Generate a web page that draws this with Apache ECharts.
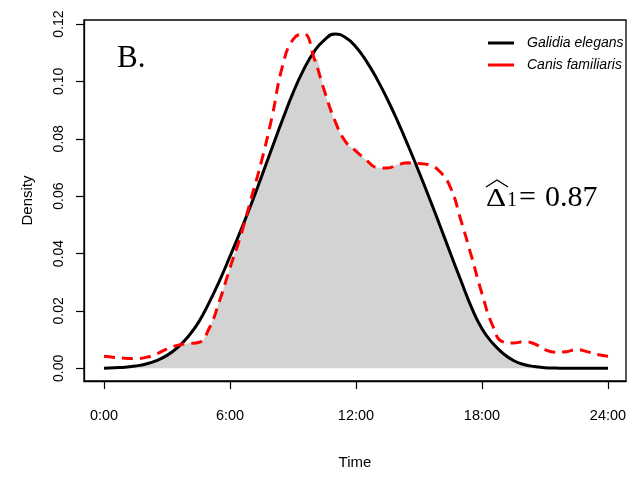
<!DOCTYPE html>
<html>
<head>
<meta charset="utf-8">
<script src="https://cdn.jsdelivr.net/npm/echarts@6/dist/echarts.min.js"></script>
<style>
html,body{margin:0;padding:0;background:#fff;}
#chart{width:632px;height:477px;}
</style>
</head>
<body>
<div id="chart"></div>
<script>
// ---- data ----
const hours = [0,0.5,1,1.5,2,2.5,3,3.5,4,4.5,5,5.5,6,6.5,7,7.5,8,8.5,9,9.5,10,10.5,11,11.5,12,12.5,13,13.5,14,14.5,15,15.5,16,16.5,17,17.5,18,18.5,19,19.5,20,20.5,21,21.5,22,22.5,23,23.5,24];
const galidia = [0.0000,0.0002,0.0004,0.0008,0.0015,0.0027,0.0045,0.0072,0.0110,0.0160,0.0228,0.0305,0.0390,0.0478,0.0570,0.0668,0.0768,0.0866,0.0960,0.1040,0.1103,0.1145,0.1165,0.1153,0.1120,0.1070,0.1008,0.0937,0.0858,0.0773,0.0684,0.0592,0.0497,0.0400,0.0305,0.0212,0.0138,0.0088,0.0052,0.0027,0.0013,0.0006,0.0002,0.0001,0.0000,0.0000,0.0000,0.0000,0.0000];
const canis = [0.0042,0.0038,0.0035,0.0034,0.0038,0.0050,0.0068,0.0080,0.0086,0.0090,0.0138,0.0235,0.0350,0.0460,0.0590,0.0722,0.0876,0.1053,0.1146,0.1166,0.1082,0.0966,0.0862,0.0790,0.0757,0.0725,0.0700,0.0698,0.0710,0.0716,0.0714,0.0708,0.0685,0.0630,0.0515,0.0390,0.0260,0.0150,0.0092,0.0088,0.0093,0.0085,0.0065,0.0056,0.0058,0.0065,0.0058,0.0048,0.0042];
const xTicks = [0,6,12,18,24];
const xTickLabels = ['0:00','6:00','12:00','18:00','24:00'];
const yTicks = [0,0.02,0.04,0.06,0.08,0.10,0.12];
const yTickLabels = ['0.00','0.02','0.04','0.06','0.08','0.10','0.12'];
const seriesNames = ['Galidia elegans','Canis familiaris'];
const panelLabel = 'B.';
const overlapValue = '0.87';

// ---- build ----
const pairs = arr => hours.map((h,i)=>[h,arr[i]]);
const overlap = hours.map((h,i)=>[h, Math.min(galidia[i], canis[i])]);

const chart = echarts.init(document.getElementById('chart'), null, {renderer:'canvas'});
const sans = 'Liberation Sans, Arial, sans-serif';
const serif = 'Liberation Serif, Times New Roman, serif';

chart.setOption({
  animation:false,
  backgroundColor:'#fff',
  grid:{left:84,right:6,top:20,bottom:96,show:true,borderColor:'#000',borderWidth:1.3,backgroundColor:'transparent'},
  xAxis:{
    type:'value', position:'bottom', min:-20/21, max:24+18/21,
    name:'Time', nameLocation:'middle', nameGap:74,
    nameTextStyle:{fontFamily:sans,fontSize:15,color:'#000'},
    axisLine:{show:true,onZero:false,lineStyle:{color:'#000',width:1.3}},
    splitLine:{show:false},
    axisTick:{show:true,inside:false,length:8,lineStyle:{color:'#000',width:1.2},customValues:xTicks},
    axisLabel:{show:true,inside:false,margin:27,fontFamily:sans,fontSize:14.5,color:'#000',customValues:xTicks,
      formatter:v=>{const i=xTicks.indexOf(Math.round(v));return i>=0?xTickLabels[i]:'';}}
  },
  yAxis:{
    type:'value', position:'left', min:-0.00443, max:0.1214,
    name:'Density', nameLocation:'middle', nameGap:49,
    nameTextStyle:{fontFamily:sans,fontSize:15,color:'#000'},
    axisLine:{show:true,onZero:false,lineStyle:{color:'#000',width:1.3}},
    splitLine:{show:false},
    axisTick:{show:true,inside:false,length:8,lineStyle:{color:'#000',width:1.2},customValues:yTicks},
    axisLabel:{show:true,inside:false,margin:18,rotate:90,fontFamily:sans,fontSize:14,color:'#000',customValues:yTicks,
      formatter:v=>{const i=yTicks.findIndex(t=>Math.abs(t-v)<1e-6);return i>=0?yTickLabels[i]:'';}}
  },
  legend:{
    orient:'vertical', left:488, top:36, padding:0, icon:'rect', itemWidth:26, itemHeight:3, itemGap:8,
    data:seriesNames,
    itemStyle:{borderWidth:0},
    lineStyle:{type:'solid'},
    textStyle:{fontFamily:sans,fontStyle:'italic',fontSize:14,color:'#000',padding:[0,0,0,8],lineHeight:14}
  },
  series:[
    {name:'overlap',type:'line',data:overlap,smooth:0.5,symbol:'none',lineStyle:{width:0},
     areaStyle:{color:'#D3D3D3',opacity:1},z:1,silent:true},
    {name:seriesNames[0],type:'line',data:pairs(galidia),smooth:0.5,symbol:'none',
     lineStyle:{color:'#000',width:3},itemStyle:{color:'#000'},z:3},
    {name:seriesNames[1],type:'line',data:pairs(canis),smooth:0.5,symbol:'none',
     lineStyle:{color:'#FF0000',width:3,type:[11,7]},itemStyle:{color:'#FF0000'},z:4}
  ],
  graphic:[
    {type:'text',left:117,top:43,style:{text:panelLabel,font:'31px '+serif,fill:'#000'}},
    {type:'polyline',shape:{points:[[486,187],[497,180],[508,187]]},style:{stroke:'#000',lineWidth:1.4,fill:null}},
    {type:'text',left:486,top:186,scaleX:1.2,style:{text:'Δ',font:'26px '+serif,fill:'#000'}},
    {type:'text',left:507,top:191,style:{text:'1',font:'20px '+serif,fill:'#000'}},
    {type:'text',left:519,top:183,style:{text:'=',font:'30px '+serif,fill:'#000'}},
    {type:'text',left:545,top:183,style:{text:overlapValue,font:'30px '+serif,fill:'#000'}}
  ]
});
</script>
</body>
</html>
